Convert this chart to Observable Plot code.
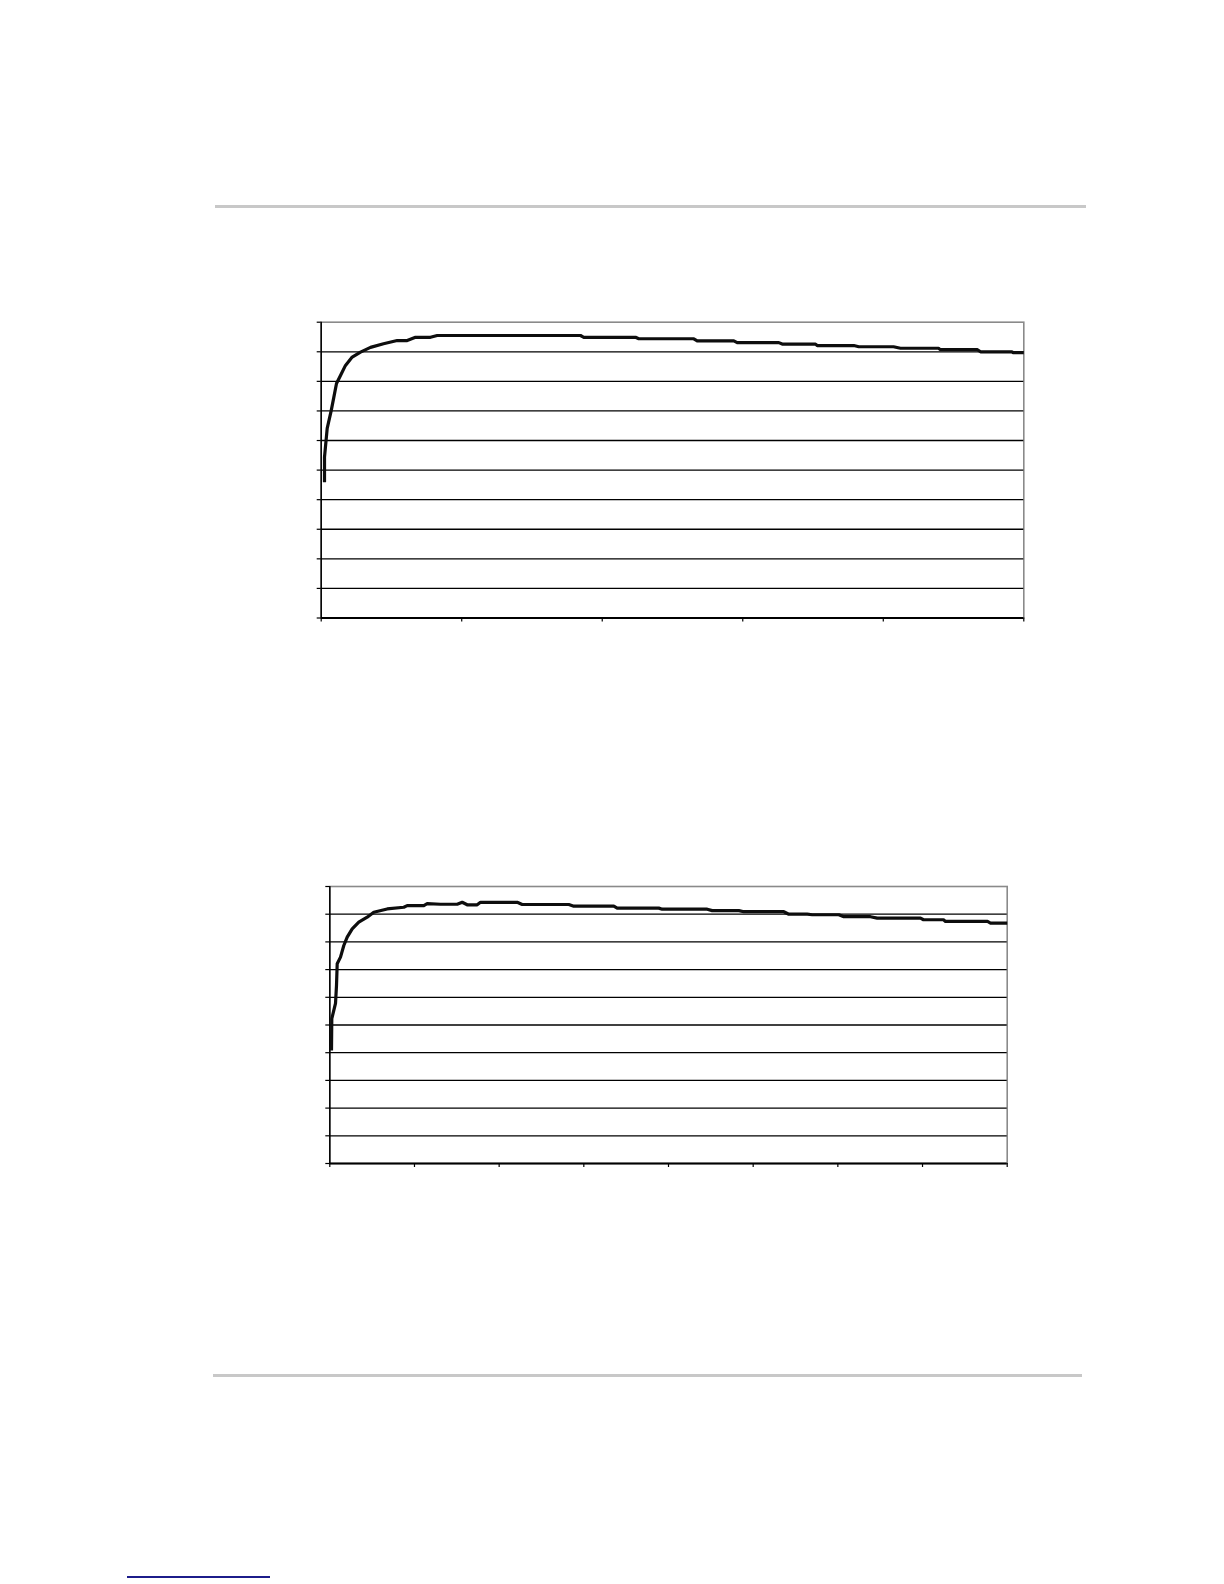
<!DOCTYPE html>
<html>
<head>
<meta charset="utf-8">
<script src="https://cdn.jsdelivr.net/npm/d3@7"></script>
<script src="https://cdn.jsdelivr.net/npm/@observablehq/plot@0.6"></script>
<style>
  html, body { margin: 0; padding: 0; background: #fff; }
  #page { position: relative; width: 1224px; height: 1584px; background: #fff; overflow: hidden; font-family: "Liberation Sans", Arial, sans-serif; }
  .rule { position: absolute; background: #c8c8c8; }
  .chart { position: absolute; }
  .link { position: absolute; background: #1c1c8a; }
</style>
</head>
<body>
<div id="page">
  <div class="rule" style="left:215px; top:205px; width:871px; height:3px;"></div>
  <div id="chart1" class="chart" style="left:280px; top:290px;"></div>
  <div id="chart2" class="chart" style="left:280px; top:850px;"></div>
  <div class="rule" style="left:213px; top:1374px; width:869px; height:3px;"></div>
  <div class="link" style="left:127px; top:1576px; width:143px; height:1.5px;"></div>
</div>
<script>
// ---- data ----
const yTicks = [0, 10, 20, 30, 40, 50, 60, 70, 80, 90, 100];
const yGrid = [10, 20, 30, 40, 50, 60, 70, 80, 90];

// Chart 1: efficiency (%) vs output power
const chart1XTicks = [0, 1000, 2000, 3000, 4000, 5000];
const chart1X = [23.5, 23.5, 42.7, 71.2, 89.7, 108.9, 137.3, 172.9, 220.6, 279.7, 350.9, 443.4, 540.8, 612.0, 671.1, 777.8, 825.5, 1845.3, 1868.8, 2236.7, 2260.2, 2651.6, 2675.8, 2936.3, 2960.5, 3256.5, 3280.7, 3517.7, 3529.8, 3790.3, 3825.8, 4072.8, 4122.6, 4393.0, 4407.2, 4670.5, 4691.9, 4912.5, 4926.7, 5000];
const chart1Y = [45.9, 54.4, 64.1, 70.1, 74.6, 79.3, 82.0, 85.4, 88.2, 89.9, 91.5, 92.7, 93.8, 93.8, 94.9, 94.9, 95.5, 95.5, 94.9, 94.9, 94.4, 94.4, 93.7, 93.7, 93.1, 93.1, 92.6, 92.6, 92.1, 92.1, 91.7, 91.7, 91.2, 91.2, 90.7, 90.7, 90.0, 90.0, 89.7, 89.7];

// Chart 2: efficiency (%) vs output power
const chart2XTicks = [0, 500, 1000, 1500, 2000, 2500, 3000, 3500, 4000];
const chart2X = [10.0, 11.8, 33.7, 39.6, 43.7, 63.2, 82.7, 102.7, 132.3, 171.2, 220.8, 259.8, 338.9, 437.0, 457.0, 555.1, 575.1, 653.7, 752.3, 781.8, 811.3, 870.4, 889.9, 1106.6, 1136.1, 1411.3, 1440.8, 1677.0, 1697.1, 1942.7, 1962.8, 2228.6, 2258.1, 2415.1, 2444.7, 2680.9, 2710.4, 2819.1, 2848.6, 3005.7, 3035.2, 3192.9, 3232.4, 3488.1, 3505.8, 3623.9, 3635.7, 3883.7, 3901.4, 4000];
const chart2Y = [40.8, 52.3, 57.8, 64.3, 72.1, 74.5, 78.7, 81.7, 84.7, 87.1, 88.9, 90.7, 91.9, 92.5, 93.1, 93.1, 93.8, 93.6, 93.6, 94.3, 93.4, 93.4, 94.3, 94.3, 93.5, 93.5, 92.9, 92.9, 92.2, 92.2, 91.8, 91.8, 91.3, 91.3, 90.9, 90.9, 90.0, 90.0, 89.8, 89.8, 89.1, 89.1, 88.6, 88.6, 88.0, 88.0, 87.4, 87.4, 86.8, 86.8];

function makeChart({xs, ys, xTicks, xMax, width, height, margins}) {
  const data = xs.map((x, i) => ({x, y: ys[i]}));
  return Plot.plot({
    width, height,
    marginLeft: margins[0], marginTop: margins[1], marginRight: margins[2], marginBottom: margins[3],
    style: {background: "transparent", overflow: "visible"},
    x: {domain: [0, xMax], nice: false, axis: null},
    y: {domain: [0, 100], nice: false, axis: null},
    marks: [
      Plot.frame({stroke: "#8a8a8a", strokeWidth: 1.6}),
      Plot.gridY(yGrid, {stroke: "#000", strokeOpacity: 1, strokeWidth: 1.3}),
      Plot.ruleY([0], {stroke: "#000", strokeWidth: 1.8}),
      Plot.ruleX([0], {stroke: "#000", strokeWidth: 1.5}),
      Plot.axisY({ticks: yTicks, tickSize: 4, tickFormat: () => "", stroke: "#000", strokeWidth: 1.2, label: null}),
      Plot.axisX({ticks: xTicks, tickSize: 4, tickFormat: () => "", stroke: "#000", strokeWidth: 1.2, label: null}),
      Plot.line(data, {x: "x", y: "y", stroke: "#0d0d0d", strokeWidth: 3.2, strokeLinejoin: "round", strokeLinecap: "butt"})
    ]
  });
}

document.getElementById("chart1").appendChild(makeChart({
  xs: chart1X, ys: chart1Y, xTicks: chart1XTicks, xMax: 5000,
  width: 780, height: 360, margins: [40.7, 31.7, 36.7, 32.5]
}));
document.getElementById("chart2").appendChild(makeChart({
  xs: chart2X, ys: chart2Y, xTicks: chart2XTicks, xMax: 4000,
  width: 780, height: 350, margins: [49.3, 36, 53.3, 37]
}));
</script>
</body>
</html>
